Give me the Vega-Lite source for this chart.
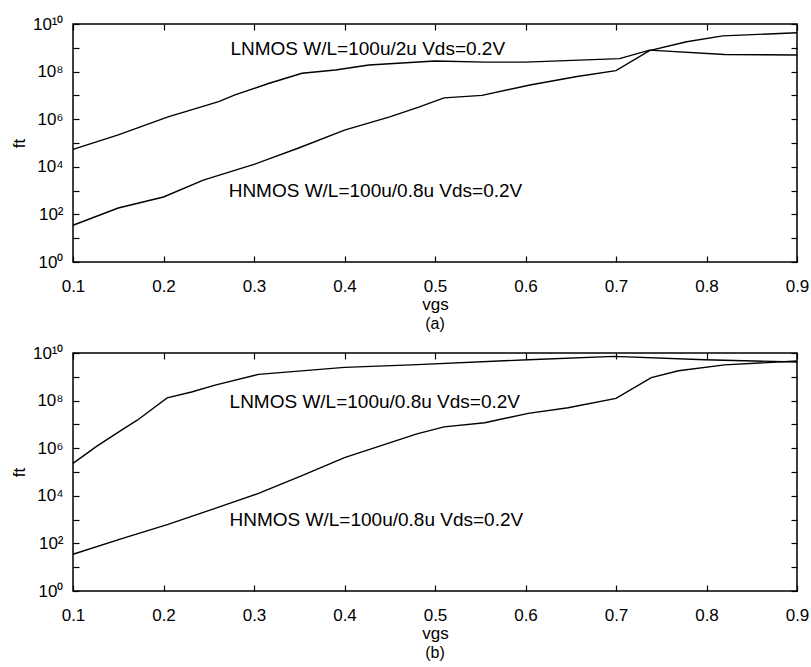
{
  "$schema": "https://vega.github.io/schema/vega-lite/v6.json",
  "autosize": {"type": "pad"},
  "padding": {"left": 9, "top": 14, "right": 5, "bottom": 5},
  "spacing": 10,
  "config": {
    "font": "Liberation Sans",
    "view": {"stroke": "black", "strokeWidth": 1.5},
    "axis": {
      "domain": false, "grid": false, "labelFlush": false,
      "tickColor": "black", "tickSize": -6, "tickWidth": 1.2,
      "labelColor": "black", "labelFontSize": 17, "labelFont": "Liberation Sans",
      "titleColor": "black", "titleFontSize": 17, "titleFontWeight": "normal", "titleFont": "Liberation Sans"
    },
    "title": {"fontSize": 16, "fontWeight": "normal", "font": "Liberation Sans", "color": "black"}
  },
  "datasets": {
    "curves": [
      {"panel": "a", "series": "LNMOS", "vgs": 0.1, "ft": 5.4e4},
      {"panel": "a", "series": "LNMOS", "vgs": 0.15, "ft": 2.2e5},
      {"panel": "a", "series": "LNMOS", "vgs": 0.205, "ft": 1.26e6},
      {"panel": "a", "series": "LNMOS", "vgs": 0.261, "ft": 5.5e6},
      {"panel": "a", "series": "LNMOS", "vgs": 0.279, "ft": 1.05e7},
      {"panel": "a", "series": "LNMOS", "vgs": 0.316, "ft": 3.16e7},
      {"panel": "a", "series": "LNMOS", "vgs": 0.353, "ft": 8.5e7},
      {"panel": "a", "series": "LNMOS", "vgs": 0.39, "ft": 1.17e8},
      {"panel": "a", "series": "LNMOS", "vgs": 0.427, "ft": 1.9e8},
      {"panel": "a", "series": "LNMOS", "vgs": 0.5, "ft": 2.8e8},
      {"panel": "a", "series": "LNMOS", "vgs": 0.556, "ft": 2.5e8},
      {"panel": "a", "series": "LNMOS", "vgs": 0.6, "ft": 2.5e8},
      {"panel": "a", "series": "LNMOS", "vgs": 0.704, "ft": 3.5e8},
      {"panel": "a", "series": "LNMOS", "vgs": 0.737, "ft": 8.0e8},
      {"panel": "a", "series": "LNMOS", "vgs": 0.82, "ft": 5.2e8},
      {"panel": "a", "series": "LNMOS", "vgs": 0.9, "ft": 5.0e8},
      {"panel": "a", "series": "HNMOS", "vgs": 0.1, "ft": 35},
      {"panel": "a", "series": "HNMOS", "vgs": 0.15, "ft": 186},
      {"panel": "a", "series": "HNMOS", "vgs": 0.2, "ft": 540},
      {"panel": "a", "series": "HNMOS", "vgs": 0.244, "ft": 2750},
      {"panel": "a", "series": "HNMOS", "vgs": 0.3, "ft": 1.26e4},
      {"panel": "a", "series": "HNMOS", "vgs": 0.35, "ft": 6.3e4},
      {"panel": "a", "series": "HNMOS", "vgs": 0.4, "ft": 3.5e5},
      {"panel": "a", "series": "HNMOS", "vgs": 0.45, "ft": 1.26e6},
      {"panel": "a", "series": "HNMOS", "vgs": 0.482, "ft": 3.2e6},
      {"panel": "a", "series": "HNMOS", "vgs": 0.51, "ft": 7.9e6},
      {"panel": "a", "series": "HNMOS", "vgs": 0.552, "ft": 1.0e7},
      {"panel": "a", "series": "HNMOS", "vgs": 0.605, "ft": 2.75e7},
      {"panel": "a", "series": "HNMOS", "vgs": 0.657, "ft": 6.2e7},
      {"panel": "a", "series": "HNMOS", "vgs": 0.7, "ft": 1.1e8},
      {"panel": "a", "series": "HNMOS", "vgs": 0.737, "ft": 7.6e8},
      {"panel": "a", "series": "HNMOS", "vgs": 0.778, "ft": 1.8e9},
      {"panel": "a", "series": "HNMOS", "vgs": 0.818, "ft": 3.16e9},
      {"panel": "a", "series": "HNMOS", "vgs": 0.9, "ft": 4.3e9},
      {"panel": "b", "series": "LNMOS", "vgs": 0.1, "ft": 2.3e5},
      {"panel": "b", "series": "LNMOS", "vgs": 0.126, "ft": 1.2e6},
      {"panel": "b", "series": "LNMOS", "vgs": 0.154, "ft": 5.9e6},
      {"panel": "b", "series": "LNMOS", "vgs": 0.171, "ft": 1.5e7},
      {"panel": "b", "series": "LNMOS", "vgs": 0.204, "ft": 1.3e8},
      {"panel": "b", "series": "LNMOS", "vgs": 0.231, "ft": 2.3e8},
      {"panel": "b", "series": "LNMOS", "vgs": 0.257, "ft": 4.5e8},
      {"panel": "b", "series": "LNMOS", "vgs": 0.305, "ft": 1.26e9},
      {"panel": "b", "series": "LNMOS", "vgs": 0.4, "ft": 2.5e9},
      {"panel": "b", "series": "LNMOS", "vgs": 0.474, "ft": 3.16e9},
      {"panel": "b", "series": "LNMOS", "vgs": 0.603, "ft": 5.2e9},
      {"panel": "b", "series": "LNMOS", "vgs": 0.698, "ft": 7.2e9},
      {"panel": "b", "series": "LNMOS", "vgs": 0.798, "ft": 5.2e9},
      {"panel": "b", "series": "LNMOS", "vgs": 0.9, "ft": 4.2e9},
      {"panel": "b", "series": "HNMOS", "vgs": 0.1, "ft": 35},
      {"panel": "b", "series": "HNMOS", "vgs": 0.154, "ft": 160},
      {"panel": "b", "series": "HNMOS", "vgs": 0.205, "ft": 630},
      {"panel": "b", "series": "HNMOS", "vgs": 0.257, "ft": 2950},
      {"panel": "b", "series": "HNMOS", "vgs": 0.305, "ft": 1.26e4},
      {"panel": "b", "series": "HNMOS", "vgs": 0.353, "ft": 7.0e4},
      {"panel": "b", "series": "HNMOS", "vgs": 0.4, "ft": 4.0e5},
      {"panel": "b", "series": "HNMOS", "vgs": 0.48, "ft": 4.0e6},
      {"panel": "b", "series": "HNMOS", "vgs": 0.51, "ft": 7.9e6},
      {"panel": "b", "series": "HNMOS", "vgs": 0.555, "ft": 1.17e7},
      {"panel": "b", "series": "HNMOS", "vgs": 0.603, "ft": 2.9e7},
      {"panel": "b", "series": "HNMOS", "vgs": 0.647, "ft": 5.0e7},
      {"panel": "b", "series": "HNMOS", "vgs": 0.7, "ft": 1.23e8},
      {"panel": "b", "series": "HNMOS", "vgs": 0.739, "ft": 9.3e8},
      {"panel": "b", "series": "HNMOS", "vgs": 0.769, "ft": 1.8e9},
      {"panel": "b", "series": "HNMOS", "vgs": 0.82, "ft": 3.16e9},
      {"panel": "b", "series": "HNMOS", "vgs": 0.9, "ft": 4.6e9}
    ],
    "labels": [
      {"panel": "a", "text": "LNMOS W/L=100u/2u Vds=0.2V", "vgs": 0.274, "ft": 8.9e8},
      {"panel": "a", "text": "HNMOS W/L=100u/0.8u Vds=0.2V", "vgs": 0.272, "ft": 950},
      {"panel": "b", "text": "LNMOS W/L=100u/0.8u  Vds=0.2V", "vgs": 0.273, "ft": 8.9e7},
      {"panel": "b", "text": "HNMOS W/L=100u/0.8u  Vds=0.2V", "vgs": 0.273, "ft": 930}
    ]
  },
  "vconcat": [
    {
      "width": 724, "height": 238,
      "title": {"text": "(a)", "orient": "bottom", "offset": 4},
      "layer": [
        {
          "data": {"name": "curves"},
          "transform": [{"filter": "datum.panel === 'a'"}],
          "mark": {"type": "line", "color": "black", "strokeWidth": 1.4},
          "encoding": {
            "x": {"field": "vgs", "type": "quantitative", "scale": {"domain": [0.1, 0.9], "nice": false, "zero": false},
                  "axis": {"orient": "bottom", "title": "vgs", "values": [0.1,0.2,0.3,0.4,0.5,0.6,0.7,0.8,0.9], "format": ".1f", "labelPadding": 22, "titlePadding": 2}},
            "y": {"field": "ft", "type": "quantitative", "scale": {"type": "log", "domain": [1, 1e10], "nice": false},
                  "axis": {"orient": "left", "title": "ft", "values": [1,10,100,1000,10000,100000,1000000,10000000,100000000,1000000000,10000000000],
                           "labelExpr": "(round(log(datum.value)/LN10) % 2 == 0) ? '10' + ['⁰','¹','²','³','⁴','⁵','⁶','⁷','⁸','⁹','¹⁰'][round(log(datum.value)/LN10)] : ''",
                           "labelPadding": 16, "titlePadding": 4}},
            "detail": {"field": "series"}
          }
        },
        {
          "data": {"name": "labels"},
          "transform": [{"filter": "datum.panel === 'a'"}],
          "mark": {"type": "text", "align": "left", "baseline": "middle", "fontSize": 19, "color": "black"},
          "encoding": {
            "x": {"field": "vgs", "type": "quantitative", "axis": null},
            "y": {"field": "ft", "type": "quantitative", "axis": null},
            "text": {"field": "text"}
          }
        },
        {
          "data": {"name": "curves"},
          "transform": [{"filter": "datum.panel === 'a'"}],
          "mark": {"type": "line", "opacity": 0},
          "encoding": {
            "x": {"field": "vgs", "type": "quantitative", "axis": {"orient": "top", "labels": false, "title": null, "values": [0.1,0.2,0.3,0.4,0.5,0.6,0.7,0.8,0.9]}},
            "y": {"field": "ft", "type": "quantitative", "axis": {"orient": "right", "labels": false, "title": null, "values": [1,10,100,1000,10000,100000,1000000,10000000,100000000,1000000000,10000000000]}},
            "detail": {"field": "series"}
          }
        }
      ],
      "resolve": {"axis": {"x": "independent", "y": "independent"}}
    },
    {
      "width": 724, "height": 238,
      "title": {"text": "(b)", "orient": "bottom", "offset": 4},
      "layer": [
        {
          "data": {"name": "curves"},
          "transform": [{"filter": "datum.panel === 'b'"}],
          "mark": {"type": "line", "color": "black", "strokeWidth": 1.4},
          "encoding": {
            "x": {"field": "vgs", "type": "quantitative", "scale": {"domain": [0.1, 0.9], "nice": false, "zero": false},
                  "axis": {"orient": "bottom", "title": "vgs", "values": [0.1,0.2,0.3,0.4,0.5,0.6,0.7,0.8,0.9], "format": ".1f", "labelPadding": 22, "titlePadding": 2}},
            "y": {"field": "ft", "type": "quantitative", "scale": {"type": "log", "domain": [1, 1e10], "nice": false},
                  "axis": {"orient": "left", "title": "ft", "values": [1,10,100,1000,10000,100000,1000000,10000000,100000000,1000000000,10000000000],
                           "labelExpr": "(round(log(datum.value)/LN10) % 2 == 0) ? '10' + ['⁰','¹','²','³','⁴','⁵','⁶','⁷','⁸','⁹','¹⁰'][round(log(datum.value)/LN10)] : ''",
                           "labelPadding": 16, "titlePadding": 4}},
            "detail": {"field": "series"}
          }
        },
        {
          "data": {"name": "labels"},
          "transform": [{"filter": "datum.panel === 'b'"}],
          "mark": {"type": "text", "align": "left", "baseline": "middle", "fontSize": 19, "color": "black"},
          "encoding": {
            "x": {"field": "vgs", "type": "quantitative", "axis": null},
            "y": {"field": "ft", "type": "quantitative", "axis": null},
            "text": {"field": "text"}
          }
        },
        {
          "data": {"name": "curves"},
          "transform": [{"filter": "datum.panel === 'b'"}],
          "mark": {"type": "line", "opacity": 0},
          "encoding": {
            "x": {"field": "vgs", "type": "quantitative", "axis": {"orient": "top", "labels": false, "title": null, "values": [0.1,0.2,0.3,0.4,0.5,0.6,0.7,0.8,0.9]}},
            "y": {"field": "ft", "type": "quantitative", "axis": {"orient": "right", "labels": false, "title": null, "values": [1,10,100,1000,10000,100000,1000000,10000000,100000000,1000000000,10000000000]}},
            "detail": {"field": "series"}
          }
        }
      ],
      "resolve": {"axis": {"x": "independent", "y": "independent"}}
    }
  ]
}
